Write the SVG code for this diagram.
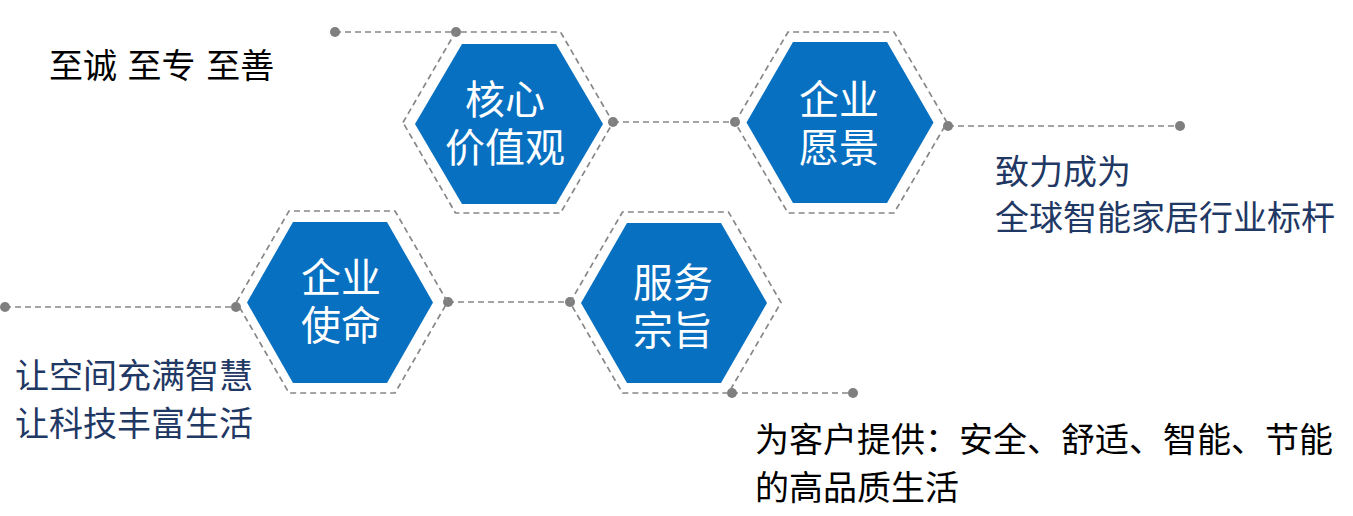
<svg xmlns="http://www.w3.org/2000/svg" width="1353" height="516" viewBox="0 0 1353 516">
<style>
.fill{fill:#0870C0;}
.outline{fill:none;stroke:#878787;stroke-width:1.7;stroke-dasharray:6 4;}
.conn{fill:none;stroke:#878787;stroke-width:1.7;stroke-dasharray:6 4;}
.dot{fill:#7F7F7F;}
.lbl{font-family:"Noto Sans CJK SC","Noto Sans",sans-serif;font-size:40px;fill:#FFFFFF;text-anchor:middle;}
.navy{font-family:"Noto Sans CJK SC","Noto Sans",sans-serif;font-size:34px;fill:#1F3864;}
.blk{font-family:"Noto Sans CJK SC","Noto Sans",sans-serif;font-size:34px;fill:#000000;}
</style>
<rect width="1353" height="516" fill="#FFFFFF"/>
<g id="connectors">
<line class="conn" x1="335" y1="32" x2="456" y2="32"/>
<circle class="dot" cx="335" cy="32" r="5"/>
<circle class="dot" cx="456" cy="32" r="5"/>
<line class="conn" x1="613" y1="122" x2="735" y2="122"/>
<circle class="dot" cx="613" cy="122" r="5"/>
<circle class="dot" cx="735" cy="122" r="5"/>
<line class="conn" x1="948" y1="126" x2="1180" y2="126"/>
<circle class="dot" cx="948" cy="126" r="5"/>
<circle class="dot" cx="1180" cy="126" r="5"/>
<line class="conn" x1="5" y1="307" x2="236" y2="307"/>
<circle class="dot" cx="5" cy="307" r="5"/>
<circle class="dot" cx="236" cy="307" r="5"/>
<line class="conn" x1="448" y1="302" x2="570" y2="302"/>
<circle class="dot" cx="448" cy="302" r="5"/>
<circle class="dot" cx="570" cy="302" r="5"/>
<line class="conn" x1="732" y1="393" x2="853" y2="393"/>
<circle class="dot" cx="732" cy="393" r="5"/>
<circle class="dot" cx="853" cy="393" r="5"/>
</g>
<g id="node-core-values">
<polygon class="outline" points="403,122.5 455.5,32 560.5,32 613,122.5 560.5,213 455.5,213"/>
<polygon class="fill" points="415,124 462,44 556,44 603,124 556,204 462,204"/>
<text class="lbl"><tspan x="505" y="114">核心</tspan><tspan x="505" y="162">价值观</tspan></text>
</g>
<g id="node-vision">
<polygon class="outline" points="735,122.5 788,32 894,32 947,122.5 894,213 788,213"/>
<polygon class="fill" points="746.5,122.5 793,42 887,42 933.5,122.5 887,203 793,203"/>
<text class="lbl"><tspan x="839" y="114">企业</tspan><tspan x="839" y="162">愿景</tspan></text>
</g>
<g id="node-mission">
<polygon class="outline" points="236.5,302 289,211 395,211 447.5,302 395,393 289,393"/>
<polygon class="fill" points="247,302.5 293,222 387,222 433,302.5 387,383 293,383"/>
<text class="lbl"><tspan x="341" y="292">企业</tspan><tspan x="341" y="340">使命</tspan></text>
</g>
<g id="node-service">
<polygon class="outline" points="570,302.5 622.5,212 728.5,212 781,302.5 728.5,393 622.5,393"/>
<polygon class="fill" points="581,303 627,223 721,223 767,303 721,383 627,383"/>
<text class="lbl"><tspan x="673" y="297">服务</tspan><tspan x="673" y="345">宗旨</tspan></text>
</g>
<g id="text-motto">
<text class="blk" x="49" y="78" word-spacing="3">至诚 至专 至善</text>
</g>
<g id="text-vision">
<text class="navy"><tspan x="995" y="184">致力成为</tspan><tspan x="995" y="230">全球智能家居行业标杆</tspan></text>
</g>
<g id="text-mission">
<text class="navy"><tspan x="15" y="388">让空间充满智慧</tspan><tspan x="15" y="436">让科技丰富生活</tspan></text>
</g>
<g id="text-service">
<text class="blk"><tspan x="755" y="452">为客户提供：安全、舒适、智能、节能</tspan><tspan x="755" y="500">的高品质生活</tspan></text>
</g>
</svg>
